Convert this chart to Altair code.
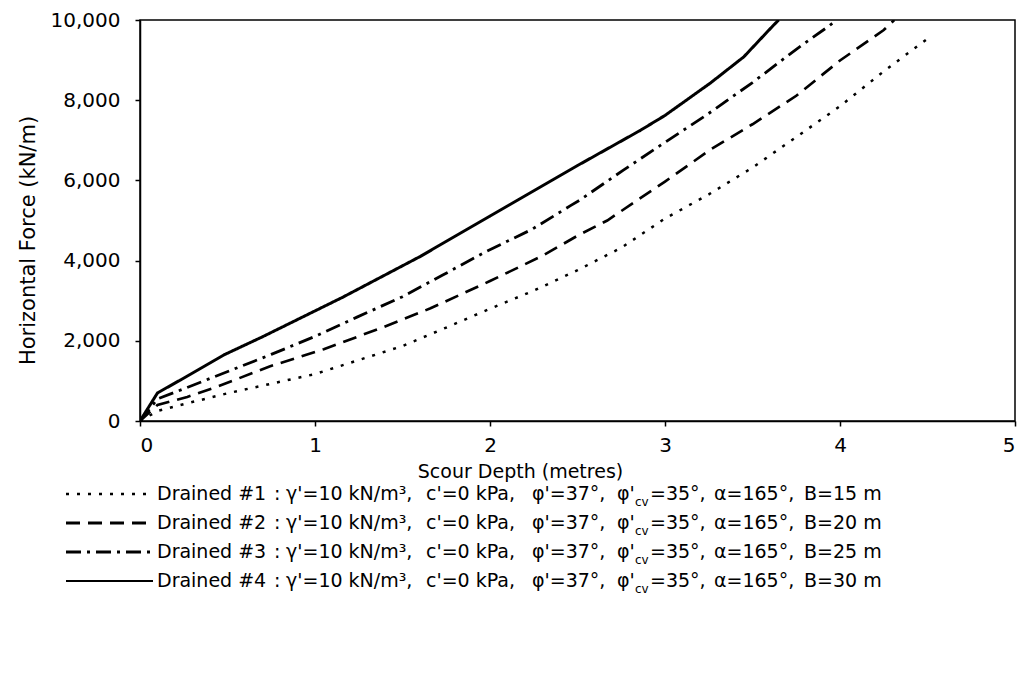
import altair as alt
import pandas as pd

# ---------------- data ----------------
series_names = ["Drained #1", "Drained #2", "Drained #3", "Drained #4"]
widths_B = [15, 20, 25, 30]

depth_1 = [0, 0.1, 0.25, 0.5, 0.75, 1.0, 1.25, 1.5, 1.75, 2.0, 2.25, 2.5, 2.75, 3.0, 3.25, 3.5, 3.75, 4.0, 4.25, 4.52]
force_1 = [0, 250, 420, 690, 930, 1170, 1520, 1870, 2330, 2800, 3250, 3760, 4320, 5050, 5650, 6320, 7080, 7850, 8720, 9600]

depth_2 = [0, 0.1, 0.27, 0.45, 0.74, 1.05, 1.39, 1.66, 2.0, 2.3, 2.5, 2.67, 3.0, 3.26, 3.5, 3.75, 4.0, 4.25, 4.31]
force_2 = [0, 400, 600, 870, 1360, 1790, 2340, 2810, 3490, 4120, 4620, 5000, 5970, 6770, 7400, 8110, 8990, 9750, 10000]

depth_3 = [0, 0.1, 0.26, 0.75, 1.0, 1.24, 1.5, 1.73, 1.98, 2.24, 2.46, 2.51, 2.76, 2.99, 3.24, 3.5, 3.75, 3.94, 3.98]
force_3 = [0, 550, 820, 1660, 2110, 2590, 3100, 3640, 4230, 4780, 5370, 5500, 6250, 6920, 7640, 8440, 9270, 9860, 10000]

depth_4 = [0, 0.1, 0.23, 0.48, 0.7, 1.16, 1.6, 2.0, 2.5, 2.86, 3.0, 3.26, 3.45, 3.62, 3.65]
force_4 = [0, 700, 1020, 1650, 2100, 3090, 4100, 5110, 6370, 7250, 7620, 8430, 9080, 9870, 10000]

y_ticks = [0, 2000, 4000, 6000, 8000, 10000]
x_ticks = [0, 1, 2, 3, 4, 5]

# ---------------- build table ----------------
rows = []
for name, xs, ys in zip(series_names, [depth_1, depth_2, depth_3, depth_4],
                        [force_1, force_2, force_3, force_4]):
    for i, (xv, yv) in enumerate(zip(xs, ys)):
        rows.append({"series": name, "depth": xv, "force": yv, "idx": i})
df = pd.DataFrame(rows)

FONT = "DejaVu Sans"
dashes = [[3, 8], [14, 8], [15, 6, 3, 6], [1, 0]]
stroke_w = [2.5, 3, 3, 2]

# plot area origin in page coords
OX, OY = 140, 20
W, H = 875, 401

lines = alt.Chart(df).mark_line(color="black", clip=True).encode(
    x=alt.X("depth:Q", scale=alt.Scale(domain=[0, 5], nice=False),
            axis=alt.Axis(values=x_ticks, title="Scour Depth (metres)", format="d",
                          titleX=380, titleY=50, titleBaseline="middle",
                          titleAlign="center", titleFontSize=19)),
    y=alt.Y("force:Q", scale=alt.Scale(domain=[0, 10000], nice=False),
            axis=alt.Axis(values=y_ticks, title="Horizontal Force (kN/m)", format=",d",
                          titleX=-112, titleY=220, titleAngle=270, titleBaseline="middle",
                          titleAlign="center", titleFontSize=21)),
    detail="series:N",
    order="idx:Q",
    strokeDash=alt.StrokeDash("series:N", scale=alt.Scale(domain=series_names, range=dashes), legend=None),
    strokeWidth=alt.StrokeWidth("series:N", scale=alt.Scale(domain=series_names, range=stroke_w), legend=None),
)

layers = [lines]
one = pd.DataFrame({"a": [0]})
row_y = [494, 523, 552, 581]
for i in range(4):
    yy = row_y[i] - OY
    layers.append(
        alt.Chart(one).mark_rule(color="black", strokeDash=dashes[i], strokeWidth=stroke_w[i]).encode(
            x=alt.value(66 - OX), x2=alt.value(153 - OX), y=alt.value(yy))
    )
    segs = [
        (157, series_names[i]),
        (274, ":"),
        (286, "γ'=10 kN/m³,"),
        (426, "c'=0 kPa,"),
        (532, "φ'=37°,"),
        (617, "φ'"),
        (650, "=35°,"),
        (714, "α=165°,"),
        (804, f"B={widths_B[i]} m"),
    ]
    for px, s in segs:
        layers.append(
            alt.Chart(one).mark_text(align="left", baseline="middle", font=FONT, fontSize=19,
                                     color="black").encode(
                x=alt.value(px - OX), y=alt.value(yy), text=alt.value(s))
        )
    layers.append(
        alt.Chart(one).mark_text(align="left", baseline="middle", font=FONT, fontSize=12,
                                 color="black").encode(
            x=alt.value(635 - OX), y=alt.value(yy + 8), text=alt.value("cv"))
    )

chart = alt.layer(*layers).properties(
    width=W, height=H,
    autosize=alt.AutoSizeParams(type="none"),
    padding={"left": OX, "top": OY, "right": 1021 - OX - W, "bottom": 677 - OY - H},
).configure_view(
    stroke="black", strokeWidth=1.5
).configure_axis(
    grid=False,
    labelFont=FONT, labelFontSize=20, labelColor="black",
    titleFont=FONT, titleFontSize=20, titleColor="black", titleFontWeight="normal",
    domainColor="black", domainWidth=1.5, tickColor="black", tickWidth=1.5, tickSize=5,
    labelPadding=15,
).configure_axisX(labelPadding=9)

chart.save("out.html", embed_options={"renderer": "svg", "actions": False})
